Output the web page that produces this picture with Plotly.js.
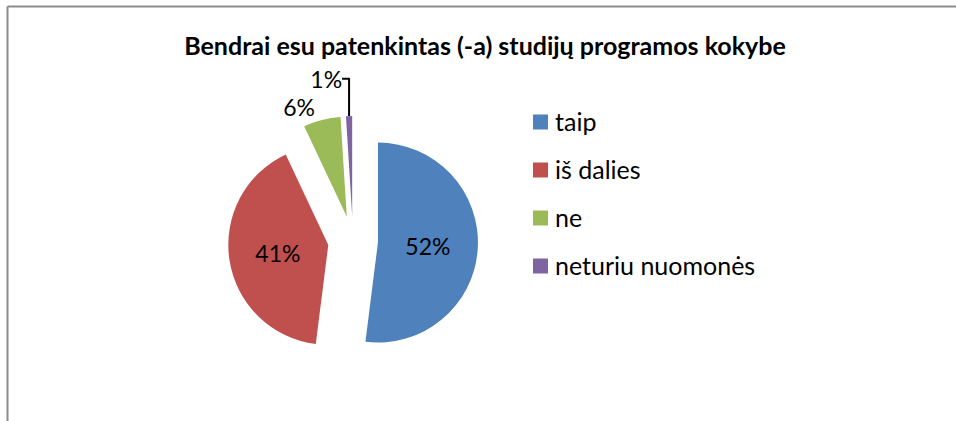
<!DOCTYPE html>
<html>
<head>
<meta charset="utf-8">
<script src="https://cdn.plot.ly/plotly-3.0.1.min.js"></script>
<style>
html,body{margin:0;padding:0;background:#fff;}
#chart{width:956px;height:421px;}
</style>
</head>
<body>
<div id="chart"></div>
<script>
const titleText = 'Bendrai esu patenkintas (-a) studijų programos kokybe';
const categories = ['taip', 'iš dalies', 'ne', 'neturiu nuomonės'];
const values = [52, 41, 6, 1];
const colors = ['#4F81BD', '#C0504D', '#9BBB59', '#8064A2'];

const W = 956, H = 421;
const FONT = 'Lato, "Open Sans", sans-serif';

// custom legend built from the arrays
const legendX = 533, legendTop = 122, legendStep = 48, sq = 15;
const shapes = [
  {type:'line', xref:'paper', yref:'paper', x0: 7.5/W, x1: 1, y0: 1-6.5/H, y1: 1-6.5/H, line:{color:'#8c8c8c', width:2}},
  {type:'line', xref:'paper', yref:'paper', x0: 7.5/W, x1: 7.5/W, y0: 0, y1: 1-6.5/H, line:{color:'#8c8c8c', width:2}}
];
const annotations = [];
categories.forEach((c, i) => {
  const cy = legendTop + i * legendStep;
  shapes.push({type:'rect', xref:'paper', yref:'paper',
    x0: legendX / W, x1: (legendX + sq) / W,
    y0: 1 - (cy + sq/2) / H, y1: 1 - (cy - sq/2) / H,
    fillcolor: colors[i], line:{width:0}});
  annotations.push({xref:'paper', yref:'paper', x:(legendX + sq + 5)/W, y: 1 - (cy - 1) / H,
    xanchor:'left', yanchor:'middle', showarrow:false, text:c,
    font:{family:FONT, size:25, color:'#000'}});
});

const cx = 353, cyc = 241, half = 125;
const trace = {
  type:'pie',
  labels: categories,
  values: values,
  sort:false,
  direction:'clockwise',
  rotation:0,
  pull:0.25,
  marker:{colors: colors, line:{width:0}},
  textinfo:'percent',
  textposition:['inside','inside','outside','outside'],
  insidetextorientation:'horizontal',
  textfont:{family:FONT, size:23, color:'#000'},
  showlegend:false,
  hoverinfo:'label+percent',
  domain:{x:[(cx-half)/W, (cx+half)/W], y:[1-(cyc+half)/H, 1-(cyc-half)/H]}
};

const layout = {
  width: W, height: H,
  margin:{l:0, r:0, t:0, b:0},
  paper_bgcolor:'#fff',
  title:{text:'<b>'+titleText+'</b>', x:485/W, xanchor:'center', y:1-46/H, yanchor:'middle',
    font:{family:FONT, size:25, color:'#000'}},
  shapes: shapes,
  annotations: annotations,
  showlegend:false
};

Plotly.newPlot('chart', [trace], layout, {displayModeBar:false, staticPlot:true});
</script>
</body>
</html>
